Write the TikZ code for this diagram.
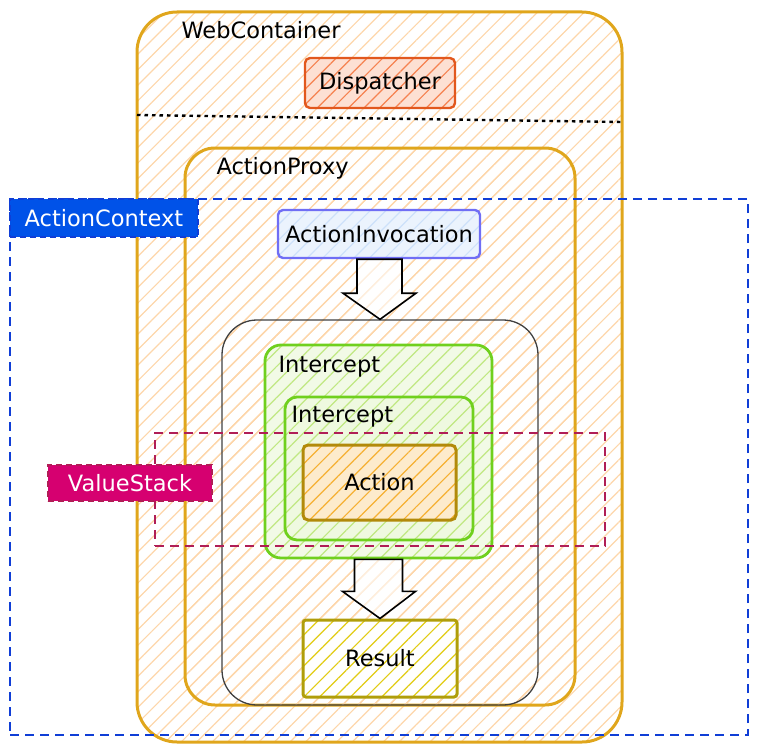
\documentclass[tikz,border=0pt]{standalone}
\usepackage{fontspec}
\setmainfont{DejaVu Sans}
\usetikzlibrary{arrows.meta,positioning,calc,patterns.meta}

\definecolor{gold}{RGB}{224,166,28}
\definecolor{peach}{RGB}{253,214,170}
\definecolor{dispred}{RGB}{226,88,30}
\definecolor{dispfill}{RGB}{246,130,80}
\definecolor{ctxblue}{RGB}{16,62,214}
\definecolor{ctxfill}{RGB}{0,82,232}
\definecolor{invblue}{RGB}{112,110,245}
\definecolor{invfill}{RGB}{205,225,250}
\definecolor{icgreen}{RGB}{112,208,30}
\definecolor{icfill}{RGB}{192,232,130}
\definecolor{actline}{RGB}{178,138,10}
\definecolor{actfill}{RGB}{246,176,50}
\definecolor{resline}{RGB}{176,158,10}
\definecolor{resfill}{RGB}{226,204,20}
\definecolor{vsred}{RGB}{176,30,86}
\definecolor{vsfill}{RGB}{214,0,112}

\begin{document}
\begin{tikzpicture}[
    x=1pt, y=-1pt,
    font=\fontsize{22.5}{27}\selectfont,
    hatch/.style={pattern={Lines[angle=45,distance=11pt,line width=1.2pt]}, pattern color=#1},
    tint/.style={preaction={fill=#1}},
    shell/.style={draw=gold, line width=3pt, rounded corners=#1, hatch=peach},
    box/.style={draw, line width=2.4pt, rounded corners=5pt, inner sep=0pt},
    ring/.style={draw=icgreen, line width=2.8pt, inner sep=0pt},
    scopebox/.style={draw=#1, line width=1.8pt, dash pattern=on 9pt off 6pt},
    tag/.style={draw, line width=1.8pt, dash pattern=on 6pt off 4pt, inner sep=0pt, text=white},
    bigarrow/.style={draw=black, line width=1.6pt, line join=miter, fill=white, fill opacity=0.6}
  ]
    \useasboundingbox (0,0) rectangle (764,752);
    % outer container
    \node[shell=40pt, minimum width=485pt, minimum height=730pt] (web) at (379.5,377) {};
    \node[anchor=west] (webname) at (178,30) {WebContainer};
    \node[box, draw=dispred, tint=dispfill!25, hatch=dispfill, minimum width=150pt, minimum height=50pt] (disp) at (380,83) {Dispatcher};
    \coordinate (sepl) at (137,115);
    \coordinate (sepr) at (622,122);
    \draw[line width=2.4pt, dash pattern=on 3.5pt off 4pt] (sepl) -- (sepr);
    % proxy
    \node[shell=30pt, minimum width=390pt, minimum height=557pt] (proxy) at (380,426.5) {};
    \node[anchor=west] (proxyname) at (213,168) {ActionProxy};
    \node[box, draw=invblue, tint=invfill!40, hatch=invfill, minimum width=202pt, minimum height=48pt] (inv) at (379,234) {ActionInvocation};
    % interceptor chain
    \node[draw=black!75, line width=1.3pt, rounded corners=35pt, hatch=peach, minimum width=316pt, minimum height=385pt] (chain) at (380,512.5) {};
    \node[ring, rounded corners=16pt, tint=icfill!20, hatch=icfill, minimum width=227pt, minimum height=213pt] (icpt) at (378.5,451.5) {};
    \node[anchor=west] (icptname) at (275,367) {Intercept};
    \node[ring, rounded corners=12pt, tint=icfill!25, hatch=icfill, minimum width=188pt, minimum height=143pt] (icptin) at (379,468.5) {};
    \node[anchor=west] (icptinname) at (288,417) {Intercept};
    \node[box, draw=actline, line width=3pt, tint=actfill!25, hatch=actfill, minimum width=153pt, minimum height=75pt] (act) at (379.5,482.5) {Action};
    \node[box, draw=resline, line width=3pt, rounded corners=3pt, tint=white, hatch=resfill, minimum width=154pt, minimum height=77pt] (res) at (380,658.5) {Result};
    % block arrows
    \draw[bigarrow] ($(inv.south)+(-22,0)$) -- ($(inv.south)+(23,0)$) -- ($(inv.south)+(23,34)$)
      -- ($(inv.south)+(37,34)$) -- (chain.north) -- ($(inv.south)+(-36,34)$) -- ($(inv.south)+(-22,34)$) -- cycle;
    \draw[bigarrow] ($(icpt.south)+(-24,0)$) -- ($(icpt.south)+(24,0)$) -- ($(icpt.south)+(24,32)$)
      -- ($(icpt.south)+(37,32)$) -- (res.north) -- ($(icpt.south)+(-36,32)$) -- ($(icpt.south)+(-24,32)$) -- cycle;
    % dashed scopes
    \node[scopebox=ctxblue, minimum width=738pt, minimum height=536pt] (ctx) at (379,467) {};
    \node[tag, draw=ctxblue, fill=ctxfill, anchor=north west, minimum width=188pt, minimum height=38pt] (ctxname) at (ctx.north west) {ActionContext};
    \node[scopebox=vsred, minimum width=450pt, minimum height=113pt] (vs) at (380,489.5) {};
    \node[tag, draw=vsred, fill=vsfill, minimum width=164pt, minimum height=36pt] (vsname) at (130,483) {ValueStack};
\end{tikzpicture}
\end{document}
